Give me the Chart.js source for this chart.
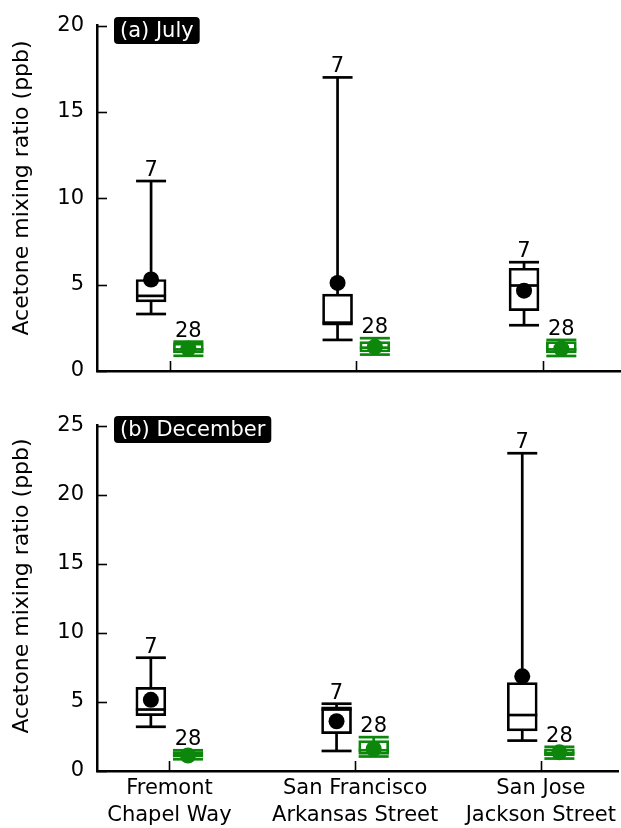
<!DOCTYPE html>
<html>
<head>
<meta charset="utf-8">
<title>Acetone mixing ratio by site</title>
<script src="https://cdn.jsdelivr.net/npm/chart.js@4/dist/chart.umd.min.js"></script>
<style>
  html, body { margin: 0; padding: 0; background: #fff; overflow: hidden; }
  .panel { width: 621px; position: relative; }
  canvas { display: block; }
</style>
</head>
<body>
<div class="panel" style="height:400px"><canvas id="july" width="621" height="400"></canvas></div>
<div class="panel" style="height:428px"><canvas id="december" width="621" height="428"></canvas></div>
<script>
// Sites along the x axis
const siteNames = [["Fremont", "Chapel Way"], ["San Francisco", "Arkansas Street"], ["San Jose", "Jackson Street"]];
const siteX = [1, 2, 3];

// Sample counts shown above each box
const countA = 7;
const countB = 28;

// July, n = 7 (black)
const julyAMin  = [3.3, 1.8, 2.65];
const julyAQ1   = [4.0, 2.65, 3.5];
const julyAMed  = [4.35, 2.8, 4.95];
const julyAQ3   = [5.3, 4.45, 5.95];
const julyAMax  = [11.0, 17.0, 6.3];
const julyAMean = [5.3, 5.1, 4.65];

// July, n = 28 (green)
const julyBMin  = [0.88, 0.95, 0.87];
const julyBQ1   = [1.05, 1.1, 1.05];
const julyBMed  = [1.25, 1.35, 1.25];
const julyBQ3   = [1.62, 1.7, 1.7];
const julyBMax  = [1.7, 1.9, 1.8];
const julyBMean = [1.3, 1.4, 1.3];

// December, n = 7 (black)
const decAMin  = [3.2, 1.45, 2.2];
const decAQ1   = [4.0, 2.7, 2.9];
const decAMed  = [4.45, 4.45, 4.05];
const decAQ3   = [6.05, 4.65, 6.4];
const decAMax  = [8.2, 4.87, 23.0];
const decAMean = [5.15, 3.6, 6.85];

// December, n = 28 (green)
const decBMin  = [0.85, 1.05, 0.9];
const decBQ1   = [1.0, 1.2, 1.1];
const decBMed  = [1.2, 1.5, 1.3];
const decBQ3   = [1.4, 2.2, 1.6];
const decBMax  = [1.5, 2.45, 1.75];
const decBMean = [1.12, 1.6, 1.35];

// Y axis tick values
const julyTicks = [0, 5, 10, 15, 20];
const decTicks  = [0, 5, 10, 15, 20, 25];

const BLACK = '#000000';
const GREEN = '#0c870c';
const FONT = "'DejaVu Sans', sans-serif";
const FS = 21;
const LW = 2.7;

Chart.defaults.font.family = FONT;
Chart.defaults.color = '#000';

// Whiskers, caps, medians, inward ticks, counts, panel tag and y title
const boxWhiskers = {
  id: 'boxWhiskers',
  beforeDatasetsDraw(chart, args, opts) {
    const { ctx, scales: { x, y } } = chart;
    ctx.save();
    ctx.lineWidth = LW;
    opts.groups.forEach(g => {
      ctx.strokeStyle = g.color;
      siteX.forEach((sx, i) => {
        const px = x.getPixelForValue(sx + g.offset);
        ctx.beginPath();
        ctx.moveTo(px, y.getPixelForValue(g.min[i]));
        ctx.lineTo(px, y.getPixelForValue(g.max[i]));
        ctx.stroke();
      });
    });
    ctx.restore();
  },
  afterDatasetDraw(chart, args, opts) {
    const g = opts.groups.find(gr => gr.boxIndex === args.index);
    if (!g) return;
    const { ctx, scales: { x, y } } = chart;
    const half = opts.halfWidth;
    ctx.save();
    ctx.strokeStyle = g.color;
    ctx.lineWidth = LW;
    siteX.forEach((sx, i) => {
      const px = x.getPixelForValue(sx + g.offset);
      [g.min[i], g.max[i], g.med[i]].forEach(v => {
        const py = y.getPixelForValue(v);
        ctx.beginPath();
        ctx.moveTo(px - half, py);
        ctx.lineTo(px + half, py);
        ctx.stroke();
      });
    });
    ctx.restore();
  },
  afterDraw(chart, args, opts) {
    const { ctx, chartArea: area, scales: { x, y } } = chart;
    ctx.save();
    // inward tick marks
    ctx.strokeStyle = '#000';
    ctx.lineWidth = 1.6;
    y.ticks.forEach(t => {
      const py = Math.round(y.getPixelForValue(t.value)) + 0.5;
      ctx.beginPath();
      ctx.moveTo(area.left, py);
      ctx.lineTo(area.left + 10, py);
      ctx.stroke();
    });
    siteX.forEach(v => {
      const px = Math.round(x.getPixelForValue(v)) + 0.5;
      ctx.beginPath();
      ctx.moveTo(px, area.bottom);
      ctx.lineTo(px, area.bottom - 10);
      ctx.stroke();
    });
    // sample counts
    ctx.font = FS + 'px ' + FONT;
    ctx.textAlign = 'center';
    ctx.textBaseline = 'alphabetic';
    opts.groups.forEach(g => {
      siteX.forEach((sx, i) => {
        const px = x.getPixelForValue(sx + g.offset);
        ctx.fillStyle = '#000';
        ctx.fillText(String(g.n), px, y.getPixelForValue(g.max[i]) - 5);
      });
    });
    // panel tag
    ctx.font = FS + 'px ' + FONT;
    const tw = ctx.measureText(opts.tag).width;
    const tx = 114, ty = opts.tagTop, th = 27, pad = 6;
    ctx.fillStyle = '#000';
    ctx.beginPath();
    ctx.roundRect(tx, ty, tw + pad * 2, th, 4);
    ctx.fill();
    ctx.fillStyle = '#fff';
    ctx.textAlign = 'left';
    ctx.textBaseline = 'middle';
    ctx.fillText(opts.tag, tx + pad, ty + th / 2 + 1);
    // y axis title
    ctx.translate(22, opts.titleY);
    ctx.rotate(-Math.PI / 2);
    ctx.fillStyle = '#000';
    ctx.font = '22px ' + FONT;
    ctx.textAlign = 'center';
    ctx.textBaseline = 'middle';
    ctx.fillText('Acetone mixing ratio (ppb)', 0, 0);
    ctx.restore();
  }
};

function makePanel(id, p) {
  const black = { offset: -0.1, color: BLACK, min: p.aMin, med: p.aMed, max: p.aMax, n: countA, boxIndex: 2 };
  const green = { offset: 0.1, color: GREEN, min: p.bMin, med: p.bMed, max: p.bMax, n: countB, boxIndex: 3 };
  const pts = (off, arr) => siteX.map((sx, i) => ({ x: sx + off, y: arr[i] }));
  const boxes = (off, lo, hi) => siteX.map((sx, i) => ({ x: sx + off, y: [lo[i], hi[i]] }));

  return new Chart(document.getElementById(id), {
    type: 'bar',
    data: {
      datasets: [
        { type: 'scatter', data: pts(black.offset, p.aMean), backgroundColor: BLACK, borderWidth: 0, pointRadius: 8, order: 0 },
        { type: 'scatter', data: pts(green.offset, p.bMean), backgroundColor: GREEN, borderWidth: 0, pointRadius: 8, order: 0 },
        { type: 'bar', data: boxes(black.offset, p.aQ1, p.aQ3), backgroundColor: '#fff', borderColor: BLACK,
          borderWidth: LW, borderSkipped: false, barThickness: 30, grouped: false, order: 1 },
        { type: 'bar', data: boxes(green.offset, p.bQ1, p.bQ3), backgroundColor: '#fff', borderColor: GREEN,
          borderWidth: LW, borderSkipped: false, barThickness: 30, grouped: false, order: 1 }
      ]
    },
    options: {
      responsive: false,
      animation: false,
      events: [],
      layout: { autoPadding: false, padding: { top: 20, left: 0, right: 0, bottom: 0 } },
      plugins: {
        legend: { display: false },
        tooltip: { enabled: false },
        boxWhiskers: { groups: [black, green], halfWidth: 15, tag: p.tag, tagTop: p.tagTop, titleY: p.titleY }
      },
      scales: {
        x: {
          type: 'linear',
          offset: false,
          min: 0.61,
          max: 3.42,
          grid: { display: false, drawTicks: false },
          border: { display: true, color: '#000', width: 2.5 },
          afterBuildTicks(scale) { scale.ticks = siteX.map(v => ({ value: v })); },
          afterFit(scale) { scale.height = p.xHeight; },
          ticks: {
            display: p.showLabels,
            autoSkip: false,
            maxRotation: 0,
            padding: 5,
            font: { size: FS, lineHeight: 1.24 },
            color: '#000',
            callback: (v) => siteNames[siteX.indexOf(v)]
          }
        },
        y: {
          min: 0,
          max: p.ticks[p.ticks.length - 1],
          grid: { display: false, drawTicks: false },
          border: { display: true, color: '#000', width: 2.5 },
          afterBuildTicks(scale) { scale.ticks = p.ticks.map(v => ({ value: v })); },
          afterFit(scale) { scale.width = 97; },
          ticks: { padding: 13, font: { size: FS }, color: '#000' }
        }
      }
    },
    plugins: [boxWhiskers]
  });
}

makePanel('july', {
  tag: '(a) July', tagTop: 17, titleY: 188, ticks: julyTicks, showLabels: false, xHeight: 29,
  aMin: julyAMin, aQ1: julyAQ1, aMed: julyAMed, aQ3: julyAQ3, aMax: julyAMax, aMean: julyAMean,
  bMin: julyBMin, bQ1: julyBQ1, bMed: julyBMed, bQ3: julyBQ3, bMax: julyBMax, bMean: julyBMean
});

makePanel('december', {
  tag: '(b) December', tagTop: 16, titleY: 186, ticks: decTicks, showLabels: true, xHeight: 57,
  aMin: decAMin, aQ1: decAQ1, aMed: decAMed, aQ3: decAQ3, aMax: decAMax, aMean: decAMean,
  bMin: decBMin, bQ1: decBQ1, bMed: decBMed, bQ3: decBQ3, bMax: decBMax, bMean: decBMean
});
</script>
</body>
</html>
